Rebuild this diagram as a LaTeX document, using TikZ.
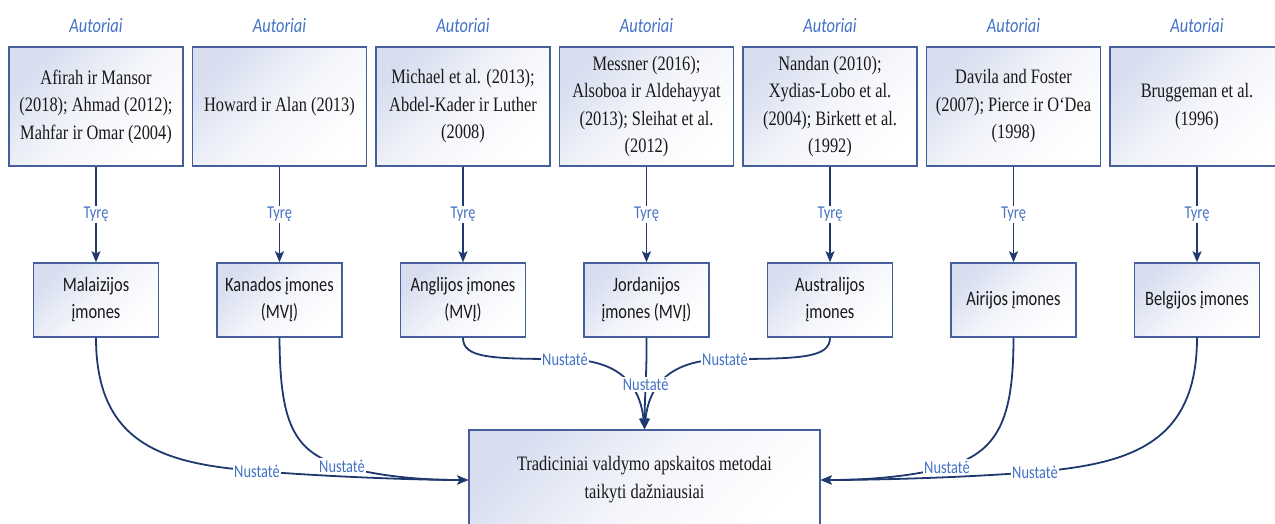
\documentclass[tikz,border=0pt]{standalone}
\usepackage{fontspec}
\setmainfont{Liberation Serif}[FakeStretch=0.8]
\newfontfamily\labelfont{Carlito}[FakeStretch=0.8]
\usetikzlibrary{arrows.meta}

\definecolor{navy}{RGB}{31,56,110}
\definecolor{framec}{RGB}{70,95,155}
\definecolor{lblue}{RGB}{68,114,196}
\definecolor{tint}{RGB}{216,222,240}
\definecolor{inkc}{RGB}{25,25,25}

\tikzset{
  boxbase/.style={draw=framec, line width=1.5pt, top color=tint, bottom color=white,
    middle color=tint!30!white, shading angle=45, align=center, text=inkc, inner sep=0pt},
  srcbox/.style={boxbase, minimum width=174pt, minimum height=119pt,
    font=\fontsize{20.5}{27.5}\selectfont},
  firmbox/.style={boxbase, minimum width=125pt, minimum height=74pt,
    font=\labelfont\fontsize{20.5}{27}\selectfont},
  resbox/.style={boxbase, minimum width=351pt, minimum height=100pt,
    font=\fontsize{20.5}{28}\selectfont},
  authlbl/.style={font=\labelfont\itshape\fontsize{20.5}{24}\selectfont, text=lblue},
  lbl/.style={font=\labelfont\fontsize{18}{20}\selectfont, text=lblue, fill=white,
    inner sep=1.5pt},
  conn/.style={draw=navy, line width=1.8pt, -{Stealth[length=11pt,width=9pt,inset=2.5pt]}},
}

\begin{document}
\begin{tikzpicture}[x=1pt,y=-1pt]
\useasboundingbox (0,0) rectangle (1275,524);

% column headers
\foreach \i/\x in {1/96,2/279.5,3/463,4/646.5,5/830,6/1013.5,7/1197}
  \node[authlbl] (a\i) at (\x,26) {Autoriai};

% source boxes (authors)
\node[srcbox] (s1) at (96,106.5)    {Afirah ir Mansor\\(2018); Ahmad (2012);\\Mahfar ir Omar (2004)};
\node[srcbox] (s2) at (279.5,106.5) {Howard ir Alan (2013)};
\node[srcbox] (s3) at (463,106.5)   {Michael et al. (2013);\\Abdel-Kader ir Luther\\(2008)};
\node[srcbox] (s4) at (646.5,106.5) {Messner (2016);\\Alsoboa ir Aldehayyat\\(2013); Sleihat et al.\\(2012)};
\node[srcbox] (s5) at (830,106.5)   {Nandan (2010);\\Xydias-Lobo et al.\\(2004); Birkett et al.\\(1992)};
\node[srcbox] (s6) at (1013.5,106.5){Davila and Foster\\(2007); Pierce ir O‘Dea\\(1998)};
\node[srcbox] (s7) at (1197,106.5)  {Bruggeman et al.\\(1996)};

% studied companies
\node[firmbox] (m1) at (96,300)     {Malaizijos\\įmones};
\node[firmbox] (m2) at (279.5,300)  {Kanados įmones\\(MVĮ)};
\node[firmbox] (m3) at (463,300)    {Anglijos įmones\\(MVĮ)};
\node[firmbox] (m4) at (646.5,300)  {Jordanijos\\įmones (MVĮ)};
\node[firmbox] (m5) at (830,300)    {Australijos\\įmones};
\node[firmbox] (m6) at (1013.5,300) {Airijos įmones};
\node[firmbox] (m7) at (1197,300)   {Belgijos įmones};

% result
\node[resbox] (res) at (644.5,480) {Tradiciniai valdymo apskaitos metodai\\taikyti dažniausiai};

% authors -> companies
\foreach \i in {1,...,7}
  \draw[conn] (s\i.south) -- node[lbl]{Tyrę} (m\i.north);

% companies -> result, left side
\draw[conn] (m1.south) .. controls (96,445) and (165,464) .. (257,471) node[lbl]{Nustatė}
  .. controls (330,477) and (420,480) .. (res.west);
\draw[conn] (m2.south) .. controls (280,420) and (292,452) .. (342,466) node[lbl]{Nustatė}
  .. controls (385,478) and (430,480) .. (res.west);

% companies -> result, right side
\draw[conn] (m7.south) .. controls (1197,445) and (1128,464) .. (1035,472) node[lbl]{Nustatė}
  .. controls (960,478) and (870,480) .. (res.east);
\draw[conn] (m6.south) .. controls (1013.5,420) and (998,452) .. (947,467) node[lbl]{Nustatė}
  .. controls (905,478) and (860,480) .. (res.east);

% companies -> result, from above
\draw[conn] (m3.south) .. controls (463,358) and (490,359) .. (565,359) node[lbl]{Nustatė}
  .. controls (615,360) and (640,380) .. (res.north);
\draw[conn] (m5.south) .. controls (830,358) and (800,359) .. (725,359) node[lbl]{Nustatė}
  .. controls (675,360) and (649,380) .. (res.north);
\draw[conn] (m4.south) .. controls (647,370) and (644.5,400) .. node[lbl, pos=0.5]{Nustatė} (res.north);

\end{tikzpicture}
\end{document}
